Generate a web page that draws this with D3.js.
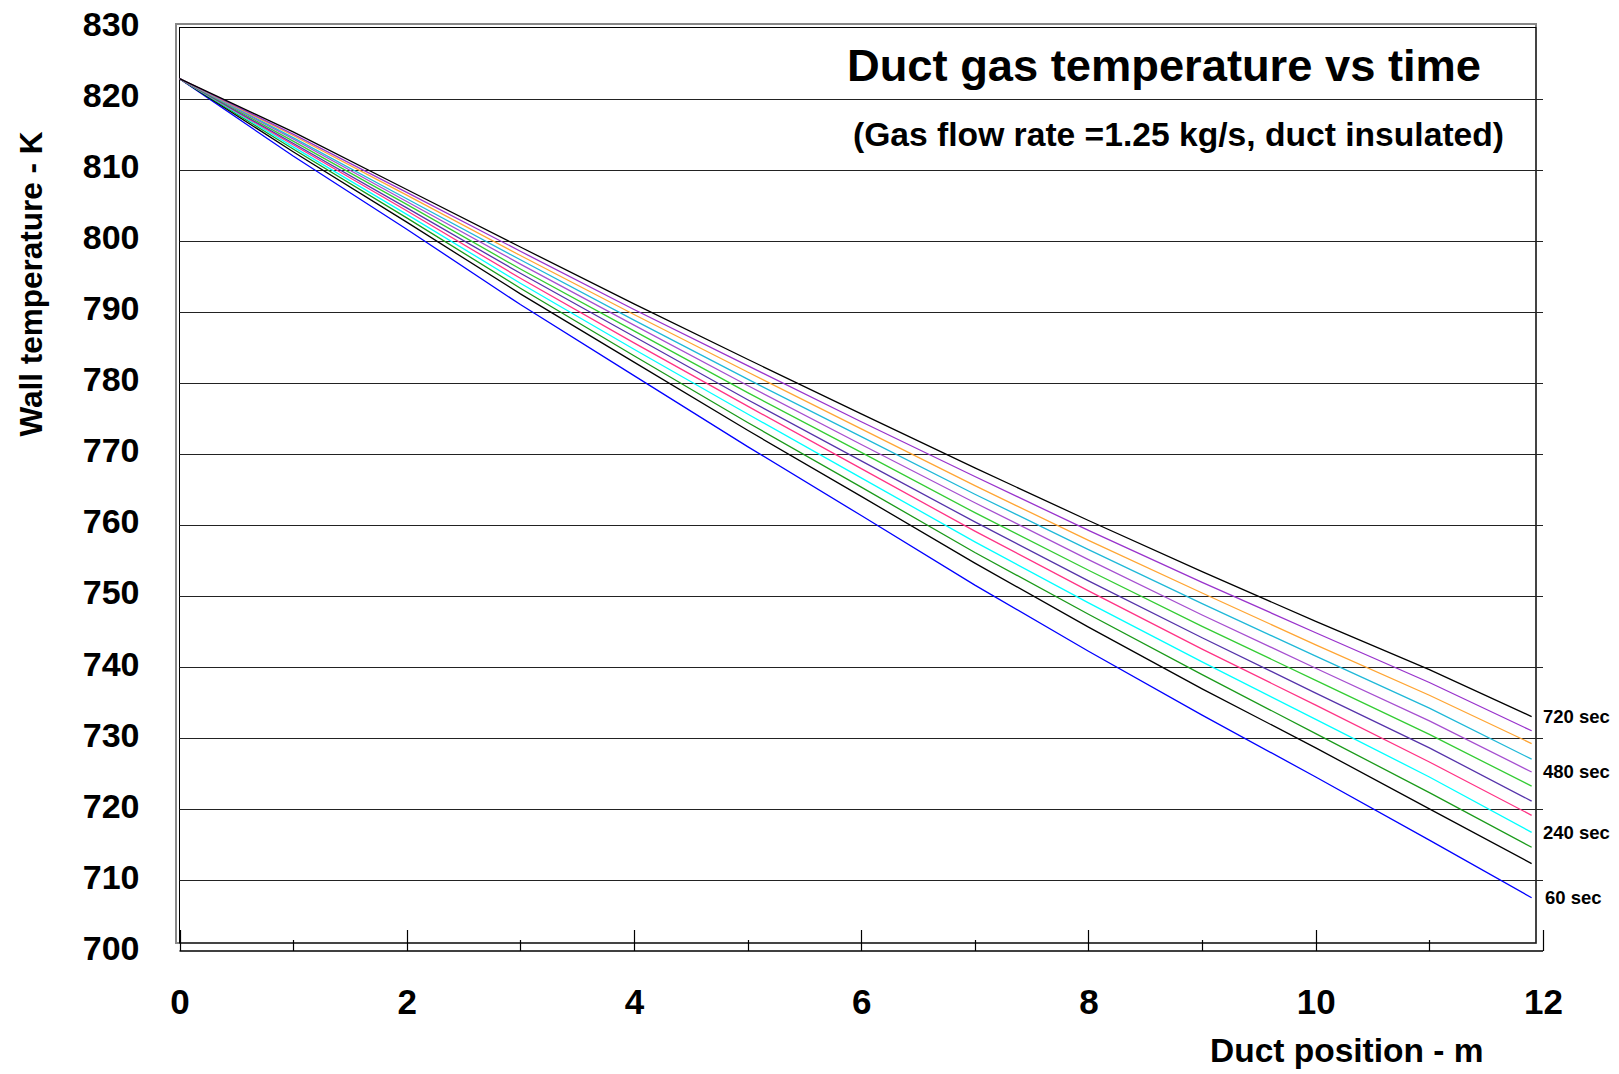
<!DOCTYPE html>
<html>
<head>
<meta charset="utf-8">
<script src="https://cdn.jsdelivr.net/npm/d3@7"></script>
<style>
	body { margin: 0; background: #fff; }
	text { font-family: "Liberation Sans", Arial, sans-serif; font-weight: bold; fill: #000; }
</style>
</head>
<body>
<div id="chart-container"></div>
<script>
"use strict";

const positions = [0, 1, 2, 3, 4, 5, 6, 7, 8, 9, 10, 11, 11.9];

// Wall temperature (K) per time step
const wallTemp60  = [822.8, 811.9, 801.6, 791.0, 781.0, 771.0, 761.3, 751.5, 742.2, 733.2, 724.5, 715.6, 707.5];
const wallTemp120 = [822.8, 812.5, 802.6, 792.5, 782.9, 773.3, 764.0, 754.6, 745.6, 736.9, 728.6, 720.0, 712.3];
const wallTemp180 = [822.8, 812.9, 803.2, 793.3, 783.8, 774.4, 765.3, 756.1, 747.4, 738.9, 730.6, 722.3, 714.6];
const wallTemp240 = [822.8, 813.2, 803.7, 794.0, 784.7, 775.6, 766.6, 757.6, 749.0, 740.7, 732.6, 724.5, 716.7];
const wallTemp300 = [822.8, 813.5, 804.2, 794.7, 785.6, 776.7, 767.9, 759.1, 750.7, 742.5, 734.6, 726.6, 719.1];
const wallTemp360 = [822.8, 813.7, 804.6, 795.4, 786.5, 777.6, 769.0, 760.4, 752.1, 744.1, 736.3, 728.6, 721.1];
const wallTemp420 = [822.8, 814.0, 805.1, 796.0, 787.3, 778.6, 770.2, 761.7, 753.6, 745.7, 738.1, 730.5, 723.2];
const wallTemp480 = [822.8, 814.3, 805.5, 796.7, 788.1, 779.6, 771.3, 763.1, 755.1, 747.3, 739.8, 732.4, 725.2];
const wallTemp540 = [822.8, 814.5, 805.9, 797.3, 788.8, 780.5, 772.4, 764.3, 756.5, 748.9, 741.5, 734.2, 727.0];
const wallTemp600 = [822.8, 814.8, 806.4, 797.9, 789.6, 781.5, 773.5, 765.5, 757.8, 750.4, 743.1, 736.0, 729.2];
const wallTemp660 = [822.8, 815.0, 806.8, 798.5, 790.3, 782.4, 774.5, 766.8, 759.2, 751.9, 744.8, 737.8, 731.0];
const wallTemp720 = [822.8, 815.3, 807.2, 799.1, 791.1, 783.3, 775.6, 768.0, 760.6, 753.4, 746.4, 739.6, 733.0];

const times = [60, 120, 180, 240, 300, 360, 420, 480, 540, 600, 660, 720];
const lineColors = ["#0000ff", "#000000", "#1a9a1a", "#00ffff", "#ff3385", "#5533aa",
	"#33cc33", "#a64fd0", "#1fb8d8", "#ffa533", "#9933cc", "#000000"];

// Only some curves carry a label at the right end
const labelledTimes = [720, 480, 240, 60];

const yTicks = [700, 710, 720, 730, 740, 750, 760, 770, 780, 790, 800, 810, 820, 830];
const xTicks = [0, 2, 4, 6, 8, 10, 12];
const xMinorTicks = [0, 1, 2, 3, 4, 5, 6, 7, 8, 9, 10, 11, 12];

const series = [wallTemp60, wallTemp120, wallTemp180, wallTemp240, wallTemp300, wallTemp360,
	wallTemp420, wallTemp480, wallTemp540, wallTemp600, wallTemp660, wallTemp720]
	.map((temps, i) => ({
		time: times[i],
		color: lineColors[i],
		points: temps.map((t, j) => ({ pos: positions[j], temp: t }))
	}));

const width = 1619;
const height = 1074;

const svg = d3.select("#chart-container")
	.append("svg")
	.attr("width", width)
	.attr("height", height);

const x = d3.scaleLinear().domain([0, 12]).range([179.5, 1543]);
const y = d3.scaleLinear().domain([700, 830]).range([951, 27.5]);

// outer grey frame + inner black frame
svg.append("rect")
	.attr("x", 176).attr("y", 24)
	.attr("width", 1536 - 176).attr("height", 943 - 24)
	.style("fill", "none").style("stroke", "#888").style("stroke-width", 2);
svg.append("rect")
	.attr("x", 179.5).attr("y", 27.5)
	.attr("width", 1536 - 179.5).attr("height", 943 - 27.5)
	.style("fill", "none").style("stroke", "#000").style("stroke-width", 1);

// horizontal gridlines
svg.append("g")
	.selectAll("line")
	.data(yTicks.filter(v => v > 700 && v < 830))
	.enter()
	.append("line")
	.attr("x1", x(0)).attr("x2", x(12))
	.attr("y1", d => Math.round(y(d)) + 0.5)
	.attr("y2", d => Math.round(y(d)) + 0.5)
	.style("stroke", "#222")
	.style("stroke-width", 1.2);

// y axis labels
const yAxis = svg.append("g")
	.attr("transform", `translate(${x(0)},0)`)
	.call(d3.axisLeft(y).tickValues(yTicks).tickSize(0).tickPadding(40).tickFormat(d3.format("d")));
yAxis.select(".domain").remove();
yAxis.selectAll("text")
	.style("font-size", "34px")
	.style("font-family", "'Liberation Sans', Arial, sans-serif")
	.style("font-weight", "bold")
	.attr("dy", "0.24em");

// x axis: bottom line with major and minor ticks
const axisY = 951;
svg.append("line")
	.attr("x1", x(0)).attr("x2", x(12))
	.attr("y1", axisY).attr("y2", axisY)
	.style("stroke", "#000").style("stroke-width", 1.3);
svg.append("g")
	.selectAll("line")
	.data(xMinorTicks)
	.enter()
	.append("line")
	.attr("x1", d => Math.round(x(d)) + 0.5)
	.attr("x2", d => Math.round(x(d)) + 0.5)
	.attr("y1", d => d % 2 === 0 ? 930 : 940)
	.attr("y2", axisY)
	.style("stroke", "#000").style("stroke-width", 1.2);

const xAxis = svg.append("g")
	.attr("transform", `translate(0,${axisY})`)
	.call(d3.axisBottom(x).tickValues(xTicks).tickSize(0).tickPadding(38).tickFormat(d3.format("d")));
xAxis.select(".domain").remove();
xAxis.selectAll("text")
	.style("font-size", "35px")
	.style("font-family", "'Liberation Sans', Arial, sans-serif")
	.style("font-weight", "bold");

// temperature curves
const line = d3.line()
	.x(d => x(d.pos))
	.y(d => y(d.temp));

svg.append("g")
	.selectAll("path")
	.data(series)
	.enter()
	.append("path")
	.attr("d", d => line(d.points))
	.style("fill", "none")
	.style("stroke", d => d.color)
	.style("stroke-width", 1.3);

// labels at the end of some curves
svg.append("g")
	.selectAll("text")
	.data(series.filter(s => labelledTimes.includes(s.time)))
	.enter()
	.append("text")
	.attr("x", d => x(12) + (d.time < 100 ? 2 : 0))
	.attr("y", d => y(d.points[d.points.length - 1].temp) + 6.5)
	.style("font-size", "18.5px")
	.text(d => d.time + " sec");

// titles
svg.append("text")
	.attr("x", 847).attr("y", 81)
	.attr("textLength", 634).attr("lengthAdjust", "spacingAndGlyphs")
	.style("font-size", "44px")
	.text("Duct gas temperature vs time");

svg.append("text")
	.attr("x", 853).attr("y", 146)
	.attr("textLength", 651).attr("lengthAdjust", "spacingAndGlyphs")
	.style("font-size", "33px")
	.text("(Gas flow rate =1.25 kg/s, duct insulated)");

svg.append("text")
	.attr("x", 1210).attr("y", 1062)
	.style("font-size", "33.5px")
	.text("Duct position - m");

svg.append("text")
	.attr("transform", "translate(42,284) rotate(-90)")
	.attr("text-anchor", "middle")
	.style("font-size", "31.5px")
	.text("Wall temperature - K");
</script>
</body>
</html>
